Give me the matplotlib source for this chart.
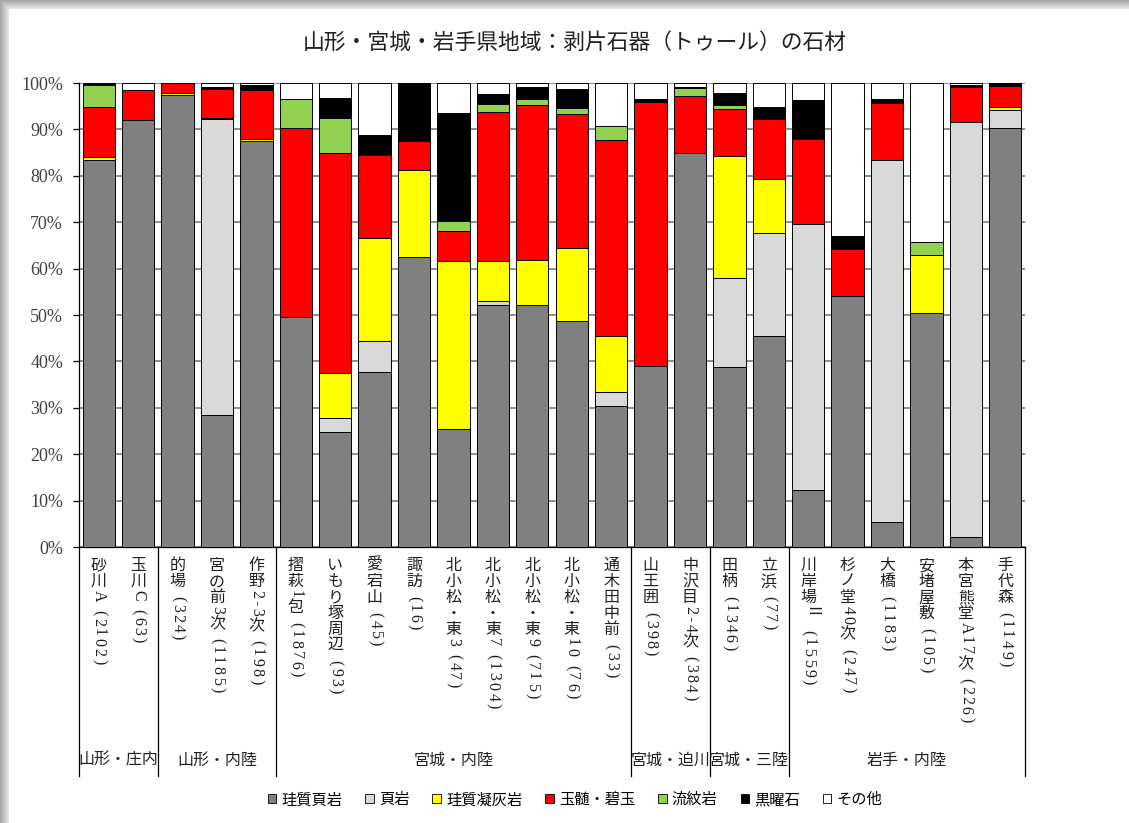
import matplotlib
matplotlib.use('Agg')
import matplotlib.pyplot as plt
import matplotlib.transforms as mtrans
import numpy as np
from matplotlib.font_manager import FontProperties
from matplotlib.patches import Patch
from matplotlib.ticker import PercentFormatter

FAMILY = ['Liberation Serif', 'Noto Sans CJK JP']
plt.rcParams['font.family'] = FAMILY

# 遺跡名と点数
sites = ['砂川A', '玉川C', '的場', '宮の前3次', '作野2-3次', '摺萩1包', 'いもり塚周辺', '愛宕山',
         '諏訪', '北小松・東3', '北小松・東7', '北小松・東9', '北小松・東10', '通木田中前',
         '山王囲', '中沢目2-4次', '田柄', '立浜', '川岸場Ⅱ', '杉ノ堂40次', '大橋', '安堵屋敷',
         '本宮熊堂A17次', '手代森']
counts = [2102, 63, 324, 1185, 198, 1876, 93, 45, 16, 47, 1304, 715, 76, 33,
          398, 384, 1346, 77, 1559, 247, 1183, 105, 226, 1149]

# 地域区分（遺跡数）
regions = ['山形・庄内', '山形・内陸', '宮城・内陸', '宮城・迫川', '宮城・三陸', '岩手・内陸']
region_sizes = [2, 3, 9, 2, 2, 6]

# 石材別の割合 (%)
keishitsu_hegan = [83.5, 92.1, 97.5, 28.5, 87.4, 49.5, 24.7, 37.8, 62.5, 25.5, 52.2, 52.2,
                   48.7, 30.3, 39.1, 84.9, 38.8, 45.5, 12.2, 54.2, 5.4, 50.5, 2.2, 90.4]
hegan = [0, 0, 0, 63.8, 0, 0, 3.2, 6.7, 0, 0, 0.9, 0,
         0, 3.0, 0, 0, 19.2, 22.1, 57.4, 0, 77.9, 0, 89.4, 3.7]
gyokaigan = [0.5, 0, 0.3, 0.1, 0.5, 0, 9.7, 22.2, 18.75, 36.2, 8.5, 9.7,
             15.8, 12.1, 0, 0, 26.3, 11.7, 0, 0, 0, 12.4, 0, 0.7]
gyokuzui = [10.8, 6.3, 2.2, 6.2, 10.5, 40.9, 47.3, 17.8, 6.25, 6.4, 32.2, 33.4,
            28.9, 42.4, 56.9, 12.2, 10.2, 13.0, 18.4, 10.1, 12.4, 0, 7.5, 4.5]
ryumongan = [4.7, 0, 0, 0.3, 0, 6.2, 7.5, 0, 0, 2.1, 1.7, 1.3,
             1.3, 3.0, 0, 1.8, 0.8, 0, 0, 0, 0, 2.9, 0, 0]
kokuyoseki = [0.2, 0, 0, 0.3, 1.2, 0, 4.3, 4.4, 12.5, 23.4, 2.1, 2.5,
              3.9, 0, 0.6, 0.2, 2.5, 2.6, 8.4, 2.7, 0.9, 0, 0.4, 0.7]
sonota = [0.3, 1.6, 0, 0.8, 0.4, 3.4, 3.3, 11.1, 0, 6.4, 2.4, 0.9,
          1.3, 9.1, 3.4, 0.9, 2.2, 5.2, 3.6, 33.0, 3.4, 34.3, 0.4, 0]

materials = ['珪質頁岩', '頁岩', '珪質凝灰岩', '玉髄・碧玉', '流紋岩', '黒曜石', 'その他']
series = [keishitsu_hegan, hegan, gyokaigan, gyokuzui, ryumongan, kokuyoseki, sonota]
colors = ['#808080', '#d9d9d9', '#ffff00', '#ff0000', '#92d050', '#000000', '#ffffff']

W, H = 1129, 823
fig = plt.figure(figsize=(W / 100, H / 100), dpi=100, facecolor='white')

# 枠の影（上辺・左辺）
bg = np.ones((H, W, 3))
for i, v in enumerate(np.linspace(0.66, 0.9, 9)):
    bg[i, i:, :] = np.minimum(bg[i, i:, :], v)
    bg[i:, i, :] = np.minimum(bg[i:, i, :], v)
fig.figimage(bg, xo=0, yo=0, origin='upper', zorder=-5)

ax = fig.add_axes([79 / W, 1 - 547 / H, 946 / W, 464 / H])
ax.set_facecolor('white')

x = np.arange(len(sites))
bottom = np.zeros(len(sites))
for name, vals, c in zip(materials, series, colors):
    vals = np.array(vals)
    ax.bar(x, vals, 0.82, bottom=bottom, color=c, edgecolor='black', linewidth=0.7,
           label=name, zorder=3)
    bottom += vals

ax.set_xlim(-0.5, len(sites) - 0.5)
ax.set_ylim(0, 100)
ax.set_yticks(np.arange(0, 101, 10))
ax.yaxis.set_major_formatter(PercentFormatter(decimals=0))
ax.set_xticks([])
ax.grid(axis='y', color='#868686', linewidth=1.3, zorder=0)
ax.set_axisbelow(True)
for s in ['top', 'right']:
    ax.spines[s].set_visible(False)
ax.spines['left'].set_linewidth(0.9)
ax.spines['bottom'].set_linewidth(0.9)
ax.tick_params(axis='y', direction='out', length=4.5, width=0.9, pad=7,
               labelsize=13, labelcolor='#404040')

# 縦書きラベル：和文は正立、半角は1文字ずつ90度回転
renderer = fig.canvas.get_renderer()
label_font = FontProperties(family=FAMILY, size=11.5)


def vertical_label(xpos, label):
    size = label_font.get_size_in_points()
    pos = 8
    for ch in label:
        upright = ord(ch) >= 0x3000
        if ch != ' ':
            ax.annotate(ch, xy=(xpos, 0), xycoords=('data', 'axes fraction'),
                        xytext=(0, -pos), textcoords='offset points',
                        ha='center', va='top', rotation=0 if upright else -90,
                        fontproperties=label_font, color='#202020')
        if upright:
            pos += size
        else:
            w, _, _ = renderer.get_text_width_height_descent(ch, label_font, ismath=False)
            pos += w * 72 / fig.dpi + 0.14 * size


for xi, name, n in zip(x, sites, counts):
    vertical_label(xi, f'{name} ({n})')

# 地域区分の線と名前
trans = mtrans.blended_transform_factory(ax.transData, ax.transAxes)
edges = np.concatenate([[0], np.cumsum(region_sizes)]) - 0.5
for e in edges:
    ax.plot([e, e], [0, -(776 - 547) / 464], transform=trans, color='black',
            linewidth=0.9, clip_on=False)
for r, lo, hi in zip(regions, edges[:-1], edges[1:]):
    ax.text((lo + hi) / 2, -(761 - 547) / 464, r, transform=trans, ha='center',
            va='center', fontsize=11.5, color='#202020')

fig.text(575 / W, 1 - 43 / H, '山形・宮城・岩手県地域：剥片石器（トゥール）の石材',
         ha='center', va='center', fontsize=15.7, color='#202020')

handles = [Patch(facecolor=c, edgecolor='black', linewidth=0.6) for c in colors]
fig.legend(handles, materials, loc='center', bbox_to_anchor=(575 / W, 1 - 800 / H),
           ncol=7, frameon=False, fontsize=11, handlelength=0.55, handleheight=0.55,
           handletextpad=0.35, columnspacing=1.5)

fig.savefig('out.png', dpi=100, facecolor='white')
